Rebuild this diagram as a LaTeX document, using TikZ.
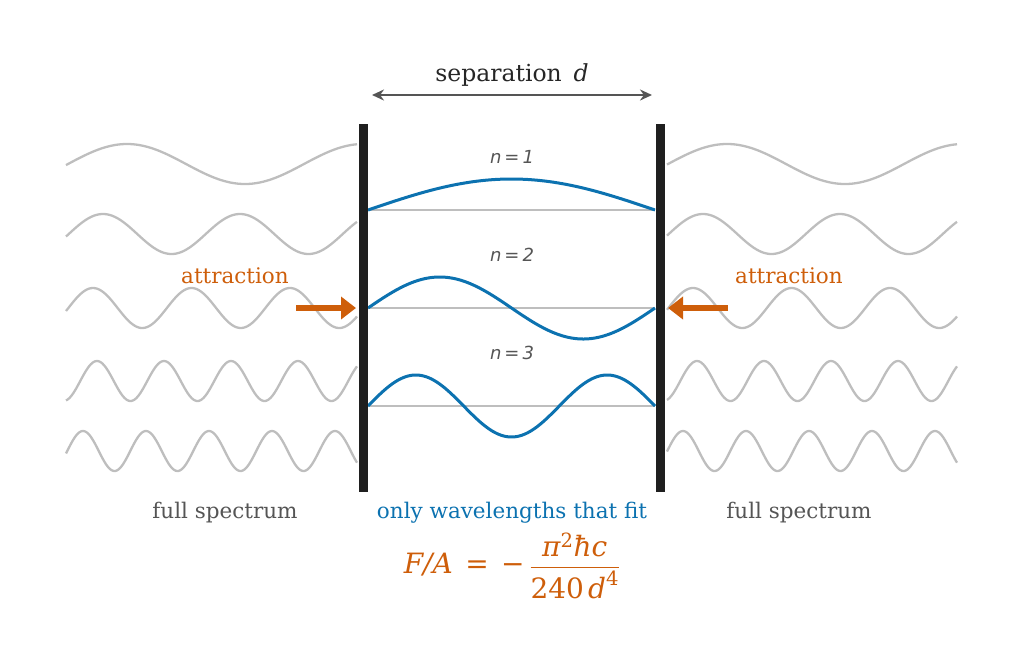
\documentclass[tikz,border=0pt]{standalone}
\usepackage{amsmath}
\usepackage{fontspec}
\setmainfont{DejaVu Serif}
\newfontfamily\dvs{DejaVu Sans}
\usetikzlibrary{arrows.meta}
\definecolor{wgray}{RGB}{190,190,190}
\definecolor{tgray}{RGB}{85,85,85}
\definecolor{mblue}{RGB}{12,114,176}
\definecolor{morange}{RGB}{206,94,10}
\begin{document}
\begin{tikzpicture}[x=1pt,y=-1pt,
  wave/.style={wgray,line width=2.3pt},
  mode/.style={mblue,line width=3pt},
  base/.style={wgray,line width=1.3pt},
  plate/.style={fill=black!88,draw=none},
  lbl/.style={font=\fontsize{21.5}{25}\selectfont,text=tgray},
  nlbl/.style={font=\dvs\itshape\fontsize{18}{21}\selectfont,text=tgray},
  att/.style={-{Triangle[length=15pt,width=22pt]},morange,line width=5.5pt}]
\useasboundingbox (0,0) rectangle (1024,665);
% free waves
\foreach \b/\p/\pk in {164/236/127, 234/137/103, 308/98.5/93, 381/67/97, 451/63/83}{
  \draw[wave] plot[domain=66:357,samples=200] (\x,{\b-20*sin(360*((\x-\pk)/\p+0.25))});
  \draw[wave] plot[domain=667:957,samples=200] (\x,{\b-20*sin(360*((\x-600-\pk)/\p+0.25))});
}
% cavity modes
\foreach \b/\n in {210/1,308/2,406/3}{
  \draw[base] (368,\b) -- (655,\b);
  \draw[mode] plot[domain=368:655,samples=150] (\x,{\b-31*sin(180*\n*((\x-368)/287))});
}
\node[nlbl] (n1) at (512,157) {n\,=\,1};
\node[nlbl] (n2) at (512,255) {n\,=\,2};
\node[nlbl] (n3) at (512,353) {n\,=\,3};
% plates
\fill[plate] (358.5,124) rectangle (367.5,492);
\fill[plate] (655.5,124) rectangle (664.5,492);
% separation
\coordinate (sl) at (372,95); \coordinate (sr) at (652,95);
\draw[{Stealth[length=12pt,width=11pt]}-{Stealth[length=12pt,width=11pt]},tgray,line width=2.4pt] (sl) -- (sr);
\node[font=\fontsize{23.5}{28}\selectfont,text=black!85] (sep) at (512,75) {separation\enspace\textit{d}};
% attraction
\node[lbl,text=morange] (al) at (235,276) {attraction};
\node[lbl,text=morange] (ar) at (789,276) {attraction};
\coordinate (a1) at (296,308); \coordinate (a2) at (356,308);
\coordinate (b1) at (728,308); \coordinate (b2) at (668,308);
\draw[att] (a1) -- (a2);
\draw[att] (b1) -- (b2);
% bottom labels
\node[lbl] (fl) at (225,513) {full spectrum};
\node[lbl,text=mblue] (fit) at (512,513) {only wavelengths that fit};
\node[lbl] (fr) at (799,513) {full spectrum};
\node[text=morange,font=\fontsize{28}{32}\selectfont\itshape] (eq) at (512,566)
  {F/A\;\,=\;\,\textup{−}\,$\displaystyle\frac{\text{\itshape π}^{\text{\upshape 2}}\text{\itshape ħc}}{\text{\upshape 240}\,\text{\itshape d}^{\text{\upshape 4}}}$};
\end{tikzpicture}
\end{document}
